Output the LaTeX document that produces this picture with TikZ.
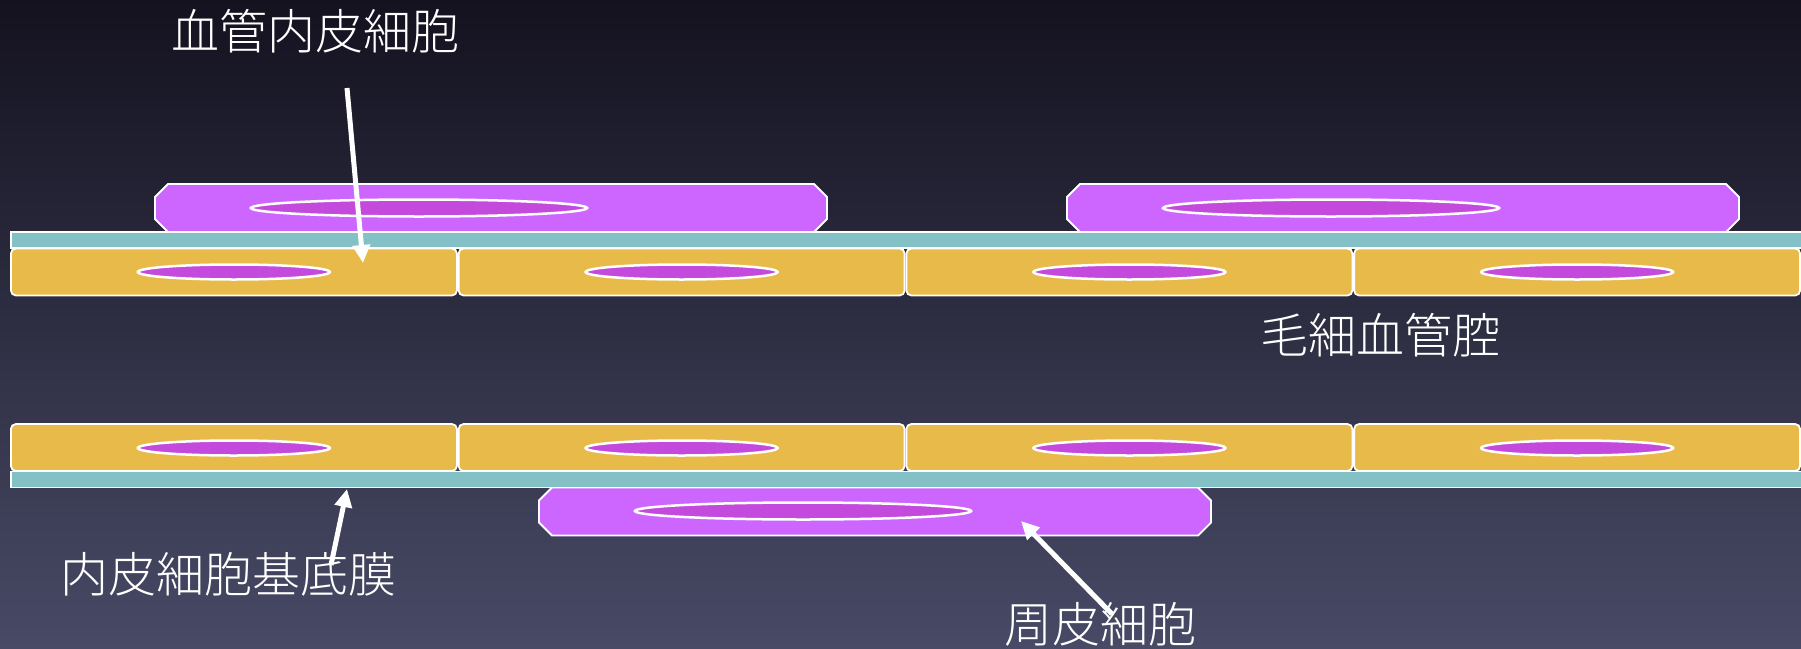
\documentclass[tikz,border=0pt]{standalone}
\usepackage{fontspec}
\newfontfamily\cjk{Noto Sans CJK JP Light}
\usetikzlibrary{arrows.meta,shapes.geometric}

\definecolor{bgtop}{HTML}{14121F}
\definecolor{bgbot}{HTML}{484A66}
\definecolor{pericyte}{HTML}{CC66FF}
\definecolor{nucleus}{HTML}{C44ADE}
\definecolor{endo}{HTML}{E8BA4A}
\definecolor{membrane}{HTML}{84C1C7}

\tikzset{
  endocell/.style={draw=white, line width=1.8pt, fill=endo, rounded corners=5pt,
    minimum width=446pt, minimum height=47pt, inner sep=0pt},
  membranebar/.style={draw=white, line width=1.8pt, fill=membrane,
    minimum width=1800pt, minimum height=16pt, inner sep=0pt, anchor=west},
  pericell/.style={draw=white, line width=1.8pt, fill=pericyte},
  endonuc/.style={ellipse, draw=white, line width=2.5pt, fill=nucleus,
    minimum width=192pt, minimum height=15pt, inner sep=0pt},
  perinuc/.style={ellipse, draw=white, line width=2.5pt, fill=nucleus,
    minimum width=336pt, minimum height=17pt, inner sep=0pt},
  tag/.style={text=white, font=\cjk\fontsize{48}{52}\selectfont, inner sep=0pt},
  pointer/.style={draw=white, line width=5pt, -{Triangle[width=17pt,length=18pt]}}
}

% flattened pericyte body with chamfered corners, centred on a named coordinate
\newcommand\pericytebody[1]{%
  \draw[pericell] (#1) ++(-336,-11) -- ++(0,22) -- ++(13,13) -- ++(646,0)
    -- ++(13,-13) -- ++(0,-22) -- ++(-13,-13) -- ++(-646,0) -- cycle;}

\begin{document}
\begin{tikzpicture}[x=1pt,y=-1pt]
  % canvas and background
  \useasboundingbox (0,0) rectangle (1801,648);
  \shade[top color=bgtop, bottom color=bgbot] (0,0) rectangle (1801,648);

  % pericytes above the upper wall
  \coordinate (p1) at (491,208);
  \coordinate (p2) at (1403,208);
  \pericytebody{p1}
  \pericytebody{p2}
  \node[perinuc] (pn1) at (419,208) {};
  \node[perinuc] (pn2) at (1331,208) {};

  % upper basement membrane
  \node[membranebar] (m1) at (10,240) {};

  % upper endothelial cells
  \foreach \i/\cx in {1/233.9, 2/681.6, 3/1129.4, 4/1577.1} {
    \node[endocell] (u\i) at (\cx,272) {};
    \node[endonuc]  (un\i) at (\cx,272) {};
  }

  % lower endothelial cells
  \foreach \i/\cx in {1/233.9, 2/681.6, 3/1129.4, 4/1577.1} {
    \node[endocell] (l\i) at (\cx,447.5) {};
    \node[endonuc]  (ln\i) at (\cx,448) {};
  }

  % pericyte below the lower wall
  \coordinate (p3) at (875,511.5);
  \pericytebody{p3}
  \node[perinuc] (pn3) at (803,511) {};

  % lower basement membrane
  \node[membranebar] (m2) at (10,479.5) {};

  % labels
  \node[tag] (t1) at (315,31)   {血管内皮細胞};
  \node[tag] (t2) at (1380,335) {毛細血管腔};
  \node[tag] (t3) at (228,574)  {内皮細胞基底膜};
  \node[tag] (t4) at (1100,624) {周皮細胞};

  % pointers
  \coordinate (a1s) at (347,88);
  \coordinate (a1e) at (363,263);
  \coordinate (a2s) at (331,565);
  \coordinate (a2e) at (347,489);
  \coordinate (a3s) at (1112,614);
  \coordinate (a3e) at (1021,521);
  \draw[pointer] (a1s) -- (a1e);
  \draw[pointer] (a2s) -- (a2e);
  \draw[pointer] (a3s) -- (a3e);
\end{tikzpicture}
\end{document}
